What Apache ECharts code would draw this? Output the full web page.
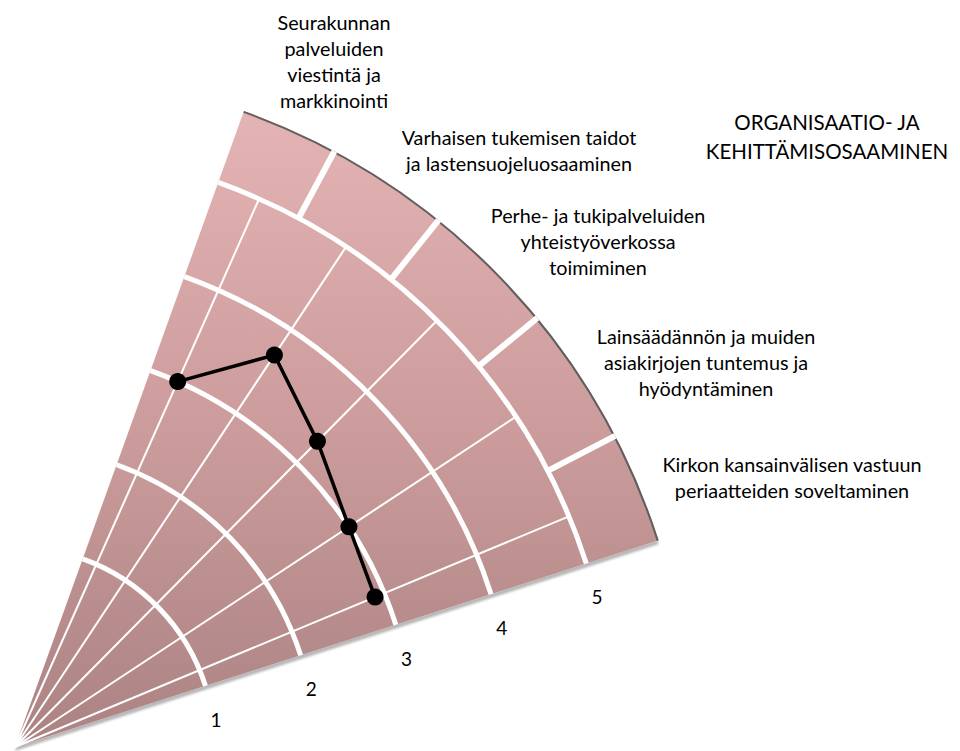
<!DOCTYPE html>
<html>
<head>
<meta charset="utf-8">
<title>Organisaatio- ja kehittämisosaaminen</title>
<script src="https://cdn.jsdelivr.net/npm/echarts@6/dist/echarts.min.js"></script>
<style>
  html, body { margin: 0; padding: 0; background: #fff; }
  #chart { width: 960px; height: 751px; }
</style>
</head>
<body>
<div id="chart"></div>
<script>
// categories, from the top edge of the fan down to the bottom edge
var categories = [
    'Seurakunnan\npalveluiden\nviestintä ja\nmarkkinointi',
    'Varhaisen tukemisen taidot\nja lastensuojeluosaaminen',
    'Perhe- ja tukipalveluiden\nyhteistyöverkossa\ntoimiminen',
    'Lainsäädännön ja muiden\nasiakirjojen tuntemus ja\nhyödyntäminen',
    'Kirkon kansainvälisen vastuun\nperiaatteiden soveltaminen'
];
var scores = [3.0, 3.7, 3.3, 3.0, 2.9];
var levels = [1, 2, 3, 4, 5];
var chartTitle = 'ORGANISAATIO- JA\nKEHITTÄMISOSAAMINEN';

// layout only: slice edges in degrees (top -> bottom), label anchors
var sliceEdges = [70.2, 61.8, 51.2, 39.4, 27.4, 17.8];
var labelPos = [[334, 61], [519, 150], [598, 241], [706, 362], [792, 477]];
var radiusMin = -1;
var radiusMax = 5.76;
var topLevel = levels[levels.length - 1];

var sliceCenters = [];
for (var i = 0; i < categories.length; i++) {
    sliceCenters.push((sliceEdges[i] + sliceEdges[i + 1]) / 2);
}
var angleTop = sliceEdges[0];
var angleBottom = sliceEdges[sliceEdges.length - 1];

var chart = echarts.init(document.getElementById('chart'), null, { renderer: 'svg' });

// pixel position + polar angle of a (radius, angle) data pair
function toPx(api, cs, r, a) {
    var p = api.coord([r, a]);
    var dx = p[0] - cs.cx, dy = p[1] - cs.cy;
    return { x: p[0], y: p[1], r: Math.sqrt(dx * dx + dy * dy), t: Math.atan2(dy, dx) };
}

var fontFamily = 'Lato, "Open Sans", sans-serif';

var labelGraphics = categories.map(function (name, i) {
    return {
        type: 'text',
        x: labelPos[i][0],
        y: labelPos[i][1],
        style: {
            text: name,
            fill: '#000',
            fontSize: 19.8,
            fontFamily: fontFamily,
            lineHeight: 26,
            align: 'center',
            verticalAlign: 'middle'
        }
    };
});
labelGraphics.push({
    type: 'text',
    x: 827,
    y: 136,
    style: {
        text: chartTitle,
        fill: '#000',
        fontSize: 20.5,
        fontFamily: fontFamily,
        lineHeight: 29,
        align: 'center',
        verticalAlign: 'middle'
    }
});

option = {
    animation: false,
    backgroundColor: '#fff',
    polar: {
        center: [15, 747],
        radius: 676
    },
    angleAxis: {
        type: 'value',
        min: angleBottom,
        max: angleTop,
        startAngle: angleBottom,
        endAngle: angleTop,
        clockwise: false,
        axisLine: { show: false },
        axisTick: { show: false },
        axisLabel: { show: false },
        splitLine: { show: false }
    },
    radiusAxis: {
        type: 'value',
        min: radiusMin,
        max: radiusMax,
        interval: 1,
        axisLine: { show: false },
        axisTick: { show: false },
        splitLine: { show: false },
        axisLabel: {
            margin: -35,
            align: 'center',
            verticalAlign: 'middle',
            color: '#000',
            fontSize: 19,
            fontFamily: fontFamily,
            formatter: function (v) {
                return levels.indexOf(v) >= 0 ? String(v) : '';
            }
        }
    },
    graphic: labelGraphics,
    series: [
        {
            // the pink fan
            type: 'custom',
            coordinateSystem: 'polar',
            z: 1,
            silent: true,
            data: [[radiusMax, angleTop, angleBottom]],
            renderItem: function (params, api) {
                var cs = params.coordSys;
                var a = toPx(api, cs, api.value(0), api.value(1));
                var b = toPx(api, cs, api.value(0), api.value(2));
                return {
                    type: 'sector',
                    shape: { cx: cs.cx, cy: cs.cy, r0: 0, r: a.r, startAngle: a.t, endAngle: b.t, clockwise: true },
                    style: {
                        fill: {
                            type: 'linear', x: 0, y: 110, x2: 0, y2: 750, global: true,
                            colorStops: [
                                { offset: 0, color: '#e4b3b3' },
                                { offset: 0.5, color: '#cc9c9c' },
                                { offset: 1, color: '#ab8282' }
                            ]
                        },
                        shadowColor: 'rgba(0,0,0,0.28)',
                        shadowBlur: 2,
                        shadowOffsetX: 0,
                        shadowOffsetY: 4
                    }
                };
            }
        },
        {
            // dark rim on the outer arc
            type: 'custom',
            coordinateSystem: 'polar',
            z: 2,
            silent: true,
            data: [[radiusMax, angleTop, angleBottom]],
            renderItem: function (params, api) {
                var cs = params.coordSys;
                var a = toPx(api, cs, api.value(0), api.value(1));
                var b = toPx(api, cs, api.value(0), api.value(2));
                return {
                    type: 'arc',
                    shape: { cx: cs.cx, cy: cs.cy, r: a.r - 1, startAngle: a.t, endAngle: b.t, clockwise: true },
                    style: { fill: 'none', stroke: '#5f5f5f', lineWidth: 2 }
                };
            }
        },
        {
            // level rings
            type: 'custom',
            coordinateSystem: 'polar',
            z: 3,
            silent: true,
            data: levels.map(function (l) { return [l, angleTop, angleBottom]; }),
            renderItem: function (params, api) {
                var cs = params.coordSys;
                var a = toPx(api, cs, api.value(0), api.value(1));
                var b = toPx(api, cs, api.value(0), api.value(2));
                return {
                    type: 'arc',
                    shape: { cx: cs.cx, cy: cs.cy, r: a.r, startAngle: a.t, endAngle: b.t, clockwise: true },
                    style: { fill: 'none', stroke: '#fff', lineWidth: 5 }
                };
            }
        },
        {
            // thin spokes through the category centres
            type: 'custom',
            coordinateSystem: 'polar',
            z: 3,
            silent: true,
            data: sliceCenters.map(function (a) { return [topLevel, a]; }),
            renderItem: function (params, api) {
                var cs = params.coordSys;
                var p = toPx(api, cs, api.value(0), api.value(1));
                return {
                    type: 'line',
                    shape: { x1: cs.cx, y1: cs.cy, x2: p.x, y2: p.y },
                    style: { stroke: '#fff', lineWidth: 2 }
                };
            }
        },
        {
            // thick dividers between the categories in the outer band
            type: 'custom',
            coordinateSystem: 'polar',
            z: 3,
            silent: true,
            data: sliceEdges.slice(1, -1).map(function (a) { return [topLevel, radiusMax, a]; }),
            renderItem: function (params, api) {
                var cs = params.coordSys;
                var p = toPx(api, cs, api.value(0), api.value(2));
                var q = toPx(api, cs, api.value(1), api.value(2));
                return {
                    type: 'line',
                    shape: { x1: p.x, y1: p.y, x2: q.x, y2: q.y },
                    style: { stroke: '#fff', lineWidth: 6 }
                };
            }
        },
        {
            name: 'Osaaminen',
            type: 'line',
            coordinateSystem: 'polar',
            z: 5,
            data: scores.map(function (v, i) { return [v, sliceCenters[i]]; }),
            symbol: 'circle',
            symbolSize: 17,
            lineStyle: { color: '#000', width: 3.5 },
            itemStyle: { color: '#000' }
        }
    ]
};
chart.setOption(option);
</script>
</body>
</html>
